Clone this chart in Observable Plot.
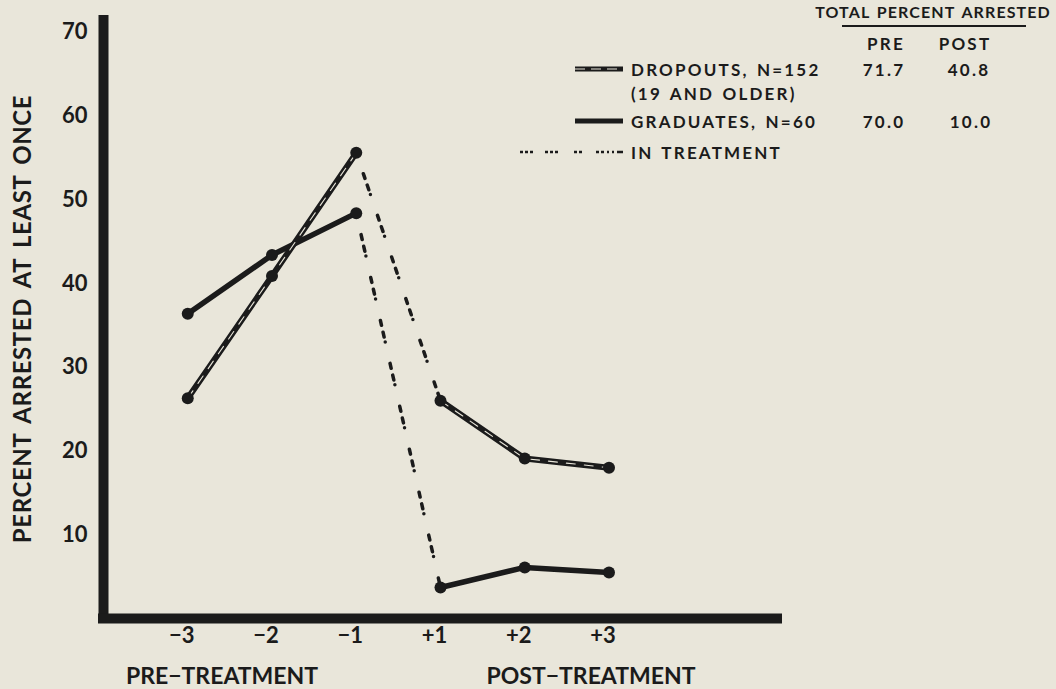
<!DOCTYPE html>
<html><head><meta charset="utf-8">
<script src="https://cdn.jsdelivr.net/npm/d3@7"></script>
<script src="https://cdn.jsdelivr.net/npm/@observablehq/plot@0.6"></script>
<style>
html,body{margin:0;padding:0;background:#e9e6da;}
#wrap{position:relative;width:1056px;height:689px;font-family:Lato,sans-serif;font-weight:700;color:#1b1b1b;overflow:hidden;}
.t{position:absolute;white-space:nowrap;line-height:1;}
.lg{font-size:17px;letter-spacing:2.2px;word-spacing:2px;}
</style></head><body><div id="wrap"></div>
<script>
// ---- data ----
const periods = ["−3", "−2", "−1", "+1", "+2", "+3"];
const dropouts = [26.3, 40.9, 55.6, 26.0, 19.1, 18.0];
const graduates = [36.4, 43.4, 48.4, 3.7, 6.1, 5.5];
const yTicks = [10, 20, 30, 40, 50, 60, 70];
const legendNames = ["DROPOUTS, N=152", "GRADUATES, N=60", "IN TREATMENT"];
const legendPre = ["71.7", "70.0"];
const legendPost = ["40.8", "10.0"];

const INK = "#1b1b1b", BG = "#e9e6da";
const pts = [];
periods.forEach((p, i) => {
  pts.push({i, period: p, series: "Dropouts", phase: i < 3 ? "pre" : "post", value: dropouts[i]});
  pts.push({i, period: p, series: "Graduates", phase: i < 3 ? "pre" : "post", value: graduates[i]});
});
const drop = pts.filter(d => d.series === "Dropouts");
const grad = pts.filter(d => d.series === "Graduates");
const treat = pts.filter(d => d.i === 2 || d.i === 3);

const chart = Plot.plot({
  width: 1056, height: 689,
  marginLeft: 103, marginRight: 279, marginTop: 15, marginBottom: 71,
  x: {domain: [-1, 7]},
  y: {domain: [0, 72]},
  style: {background: "transparent", fontFamily: "Lato, sans-serif", fontWeight: 700, color: INK, overflow: "visible"},
  marks: [
    Plot.axisY({ticks: yTicks, tickSize: 0, tickPadding: 16, fontSize: 22, label: null}),
    Plot.axisX({ticks: periods.map((_, i) => i), tickFormat: i => periods[i], tickSize: 0, tickPadding: 9, fontSize: 22, label: null, dx: -6}),
    Plot.ruleX([-1], {stroke: INK, strokeWidth: 10}),
    Plot.ruleY([0], {stroke: INK, strokeWidth: 10, strokeLinecap: "square"}),
    Plot.line(treat, {x: "i", y: "value", z: "series", stroke: INK, strokeWidth: 3.5, strokeDasharray: "0,22,5,7,5,5"}),
    Plot.line(grad, {x: "i", y: "value", z: "phase", stroke: INK, strokeWidth: 5.5}),
    Plot.line(drop, {x: "i", y: "value", z: "phase", stroke: INK, strokeWidth: 6}),
    Plot.line(drop, {x: "i", y: "value", z: "phase", stroke: BG, strokeWidth: 1.1, strokeDasharray: "9,9"}),
    Plot.dot(pts, {x: "i", y: "value", r: 6, fill: INK})
  ]
});
const wrap = document.getElementById("wrap");
chart.style.position = "absolute"; chart.style.left = "0"; chart.style.top = "0";
wrap.appendChild(chart);

function txt(s, x, y, size, align, extra) {
  const d = document.createElement("div");
  d.className = "t" + (extra ? " " + extra : "");
  d.textContent = s;
  d.style.left = x + "px"; d.style.top = y + "px";
  if (size) d.style.fontSize = size + "px";
  d.style.transform = align === "c" ? "translate(-50%,-50%)" : align === "r" ? "translate(-100%,-50%)" : "translateY(-50%)";
  wrap.appendChild(d);
  return d;
}
// axis titles
const yt = txt("PERCENT ARRESTED AT LEAST ONCE", 22, 319, 24, "c");
yt.style.letterSpacing = "0.6px"; yt.style.wordSpacing = "4px";
yt.style.transform = "translate(-50%,-50%) rotate(-90deg)";
txt("PRE−TREATMENT", 222, 675, 23, "c");
txt("POST−TREATMENT", 591, 675, 23, "c");

// legend
const tt = txt("TOTAL PERCENT ARRESTED", 933, 12, null, "c", "lg");
tt.style.letterSpacing = "1.1px"; tt.style.fontSize = "16px";
txt("PRE", 886, 43, null, "c", "lg");
txt("POST", 965, 43, null, "c", "lg");
txt(legendNames[0], 631, 69, null, "l", "lg");
txt("(19 AND OLDER)", 631, 93, null, "l", "lg");
txt(legendNames[1], 631, 121, null, "l", "lg");
txt(legendNames[2], 631, 152, null, "l", "lg");
txt(legendPre[0], 884, 69, null, "c", "lg");
txt(legendPost[0], 969, 69, null, "c", "lg");
txt(legendPre[1], 884, 121, null, "c", "lg");
txt(legendPost[1], 971, 121, null, "c", "lg");

const sw = d3.create("svg").attr("width", 1056).attr("height", 689)
  .style("position", "absolute").style("left", 0).style("top", 0);
sw.append("line").attr("x1", 842).attr("x2", 1026).attr("y1", 26).attr("y2", 26).attr("stroke", INK).attr("stroke-width", 2);
sw.append("line").attr("x1", 575).attr("x2", 623).attr("y1", 69).attr("y2", 69).attr("stroke", INK).attr("stroke-width", 5);
sw.append("line").attr("x1", 575).attr("x2", 623).attr("y1", 69).attr("y2", 69).attr("stroke", BG).attr("stroke-width", 1).attr("stroke-dasharray", "10,6");
sw.append("line").attr("x1", 575).attr("x2", 623).attr("y1", 121).attr("y2", 121).attr("stroke", INK).attr("stroke-width", 5);
sw.append("line").attr("x1", 520).attr("x2", 623).attr("y1", 152).attr("y2", 152).attr("stroke", INK).attr("stroke-width", 2.5).attr("stroke-dasharray", "3,2,3,2,3,12,3,2,3,2,3,16,3,2,3,14,3,2,3");
wrap.appendChild(sw.node());
</script></body></html>
